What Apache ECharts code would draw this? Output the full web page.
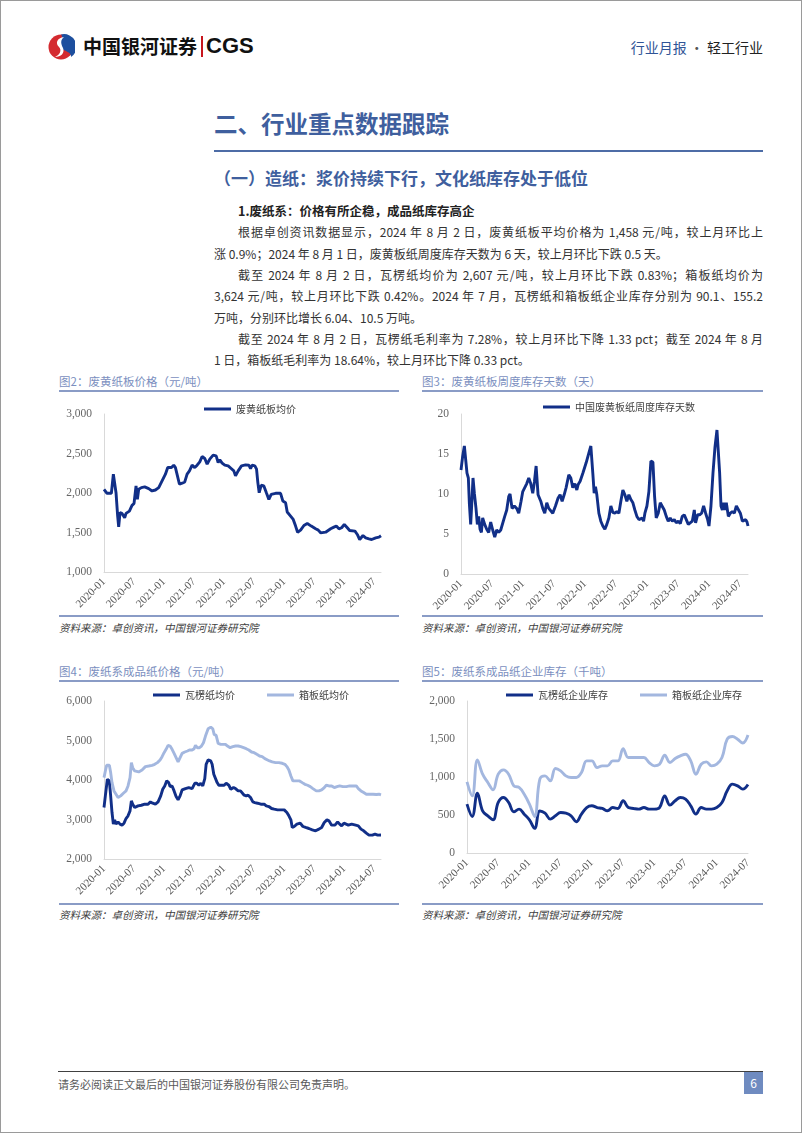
<!DOCTYPE html>
<html>
<head>
<meta charset="utf-8">
<script src="https://cdn.jsdelivr.net/npm/echarts/dist/echarts.min.js"></script>
<style>
  html, body { margin: 0; padding: 0; background: #fff; }
  #page { position: relative; width: 802px; height: 1133px; box-sizing: border-box; border: 1px solid #9a9a9a; background: #fff; overflow: hidden; font-family: "Noto Sans CJK SC", sans-serif; }
  .abs { position: absolute; white-space: nowrap; }
  .ctitle { position: absolute; font-size: 11.5px; color: #7b8fc0; line-height: 16px; white-space: nowrap; }
  .crule { position: absolute; height: 1.5px; background: #8a9cc6; }
  .csrc { position: absolute; font-size: 10.5px; color: #404040; font-style: italic; line-height: 14px; white-space: nowrap; }
  .chart { position: absolute; }
  #body { position: absolute; left: 213px; top: 199px; width: 549px; font-size: 12px; line-height: 21.33px; color: #333; }
  #body div { white-space: nowrap; }
  #body .j { text-align: justify; text-align-last: justify; white-space: normal; }
  #body .ind { padding-left: 24px; }
</style>
</head>
<body>
<div id="page">
  <!-- header -->
  <svg class="abs" style="left:46px;top:32px" width="28" height="28" viewBox="0 0 28 28">
    <circle cx="14" cy="14" r="12.5" fill="#d42a2f"/>
    <path d="M14 1.5 A12.5 12.5 0 0 1 24 24 C 25 17, 11 18, 12 11 C 12.5 7, 17 5, 14 1.5 Z" fill="#1d4f9e"/>
    <path d="M17 4 C 10 5, 8 10, 12 14 C 15 17, 13 22, 8 24 C 14 24, 18 20, 16 15 C 14 11, 13 7, 17 4 Z" fill="#ffffff"/>
  </svg>
  <div class="abs" style="left:82px;top:32px;font-size:19px;font-weight:700;color:#111;line-height:26px;">中国银河证券</div>
  <div class="abs" style="left:200px;top:35px;width:2px;height:21px;background:#c8161d;"></div>
  <div class="abs" style="left:205px;top:31px;font-family:'Liberation Sans',Arial,sans-serif;font-size:22px;font-weight:700;color:#111;line-height:28px;">CGS</div>
  <div class="abs" style="left:562px;top:36px;width:200px;text-align:right;font-size:14px;line-height:20px;"><span style="color:#2f5496;">行业月报</span><span style="color:#555;"> · </span><span style="color:#222;">轻工行业</span></div>

  <!-- section titles -->
  <div class="abs" style="left:213px;top:107px;font-size:23.5px;font-weight:700;color:#3f5f9e;line-height:30px;">二、行业重点数据跟踪</div>
  <div class="abs" style="left:213px;top:149px;width:549px;height:2px;background:#4d6ca6;"></div>
  <div class="abs" style="left:213px;top:165px;font-size:17px;font-weight:700;color:#3f5f9e;line-height:24px;">（一）造纸：浆价持续下行，文化纸库存处于低位</div>

  <div id="body">
    <div class="ind" style="font-weight:700;color:#222;font-size:12.5px;">1.废纸系：价格有所企稳，成品纸库存高企</div>
    <div class="j ind">根据卓创资讯数据显示，2024 年 8 月 2 日，废黄纸板平均价格为 1,458 元/吨，较上月环比上</div>
    <div>涨 0.9%；2024 年 8 月 1 日，废黄板纸周度库存天数为 6 天，较上月环比下跌 0.5 天。</div>
    <div class="j ind">截至 2024 年 8 月 2 日，瓦楞纸均价为 2,607 元/吨，较上月环比下跌 0.83%；箱板纸均价为</div>
    <div class="j">3,624 元/吨，较上月环比下跌 0.42%。2024 年 7 月，瓦楞纸和箱板纸企业库存分别为 90.1、155.2</div>
    <div>万吨，分别环比增长 6.04、10.5 万吨。</div>
    <div class="j ind">截至 2024 年 8 月 2 日，瓦楞纸毛利率为 7.28%，较上月环比下降 1.33 pct；截至 2024 年 8 月</div>
    <div>1 日，箱板纸毛利率为 18.64%，较上月环比下降 0.33 pct。</div>
  </div>

  <!-- chart frames -->
  <div class="ctitle" style="left:58px;top:372px;">图2：废黄纸板价格（元/吨）</div>
  <div class="crule" style="left:58px;top:389px;width:340px;"></div>
  <div class="chart" id="c1" style="left:58px;top:392px;width:340px;height:222px;"></div>
  <div class="crule" style="left:58px;top:614px;width:340px;"></div>
  <div class="csrc" style="left:58px;top:620px;">资料来源：卓创资讯，中国银河证券研究院</div>

  <div class="ctitle" style="left:421px;top:372px;">图3：废黄纸板周度库存天数（天）</div>
  <div class="crule" style="left:421px;top:389px;width:341px;"></div>
  <div class="chart" id="c2" style="left:421px;top:392px;width:341px;height:222px;"></div>
  <div class="crule" style="left:421px;top:614px;width:341px;"></div>
  <div class="csrc" style="left:421px;top:620px;">资料来源：卓创资讯，中国银河证券研究院</div>

  <div class="ctitle" style="left:58px;top:662px;">图4：废纸系成品纸价格（元/吨）</div>
  <div class="crule" style="left:58px;top:679px;width:340px;"></div>
  <div class="chart" id="c3" style="left:58px;top:682px;width:340px;height:220px;"></div>
  <div class="crule" style="left:58px;top:902px;width:340px;"></div>
  <div class="csrc" style="left:58px;top:907px;">资料来源：卓创资讯，中国银河证券研究院</div>

  <div class="ctitle" style="left:421px;top:662px;">图5：废纸系成品纸企业库存（千吨）</div>
  <div class="crule" style="left:421px;top:679px;width:341px;"></div>
  <div class="chart" id="c4" style="left:421px;top:682px;width:341px;height:220px;"></div>
  <div class="crule" style="left:421px;top:902px;width:341px;"></div>
  <div class="csrc" style="left:421px;top:907px;">资料来源：卓创资讯，中国银河证券研究院</div>

  <!-- footer -->
  <div class="abs" style="left:57px;top:1070px;width:705px;height:1px;background:#404040;"></div>
  <div class="abs" style="left:57px;top:1075px;font-size:11px;color:#595959;line-height:16px;">请务必阅读正文最后的中国银河证券股份有限公司免责声明。</div>
  <div class="abs" style="left:743px;top:1071px;width:19px;height:22px;background:#6f8bc0;color:#fff;font-size:12px;line-height:22px;text-align:center;">6</div>
</div>

<script>
// ---------- DATA (x = months since 2020-01, y = value) ----------
// 图2 废黄纸板均价 (元/吨)
const wasteBoardPrice = [[0,2047],[0.6,1996],[1.47,1996],[1.87,2238],[2.13,2217],[2.4,2004],[2.73,1708],[2.93,1572],[3.2,1750],[3.6,1742],[4.13,1687],[4.4,1742],[5.07,1771],[5.6,1843],[6.0,1868],[6.4,2089],[6.67,1919],[6.93,2047],[7.47,2068],[8.13,2077],[8.93,2055],[9.6,2026],[10.27,2038],[10.93,2068],[11.6,2153],[12.27,2238],[12.73,2322],[13.47,2322],[13.93,2352],[14.27,2322],[14.67,2217],[15.07,2111],[15.6,2124],[16.13,2140],[16.6,2238],[17.07,2280],[17.6,2352],[18.13,2322],[18.6,2352],[19.13,2395],[19.6,2462],[20.13,2437],[20.6,2365],[21.13,2429],[21.8,2479],[22.4,2470],[22.8,2386],[23.13,2420],[23.6,2378],[24.13,2352],[24.8,2344],[25.4,2310],[25.93,2280],[26.27,2217],[26.8,2280],[27.47,2344],[28.27,2356],[28.93,2352],[29.27,2310],[29.6,2352],[30.13,2344],[30.47,2302],[30.73,2132],[31.0,2004],[31.4,2098],[31.93,2089],[32.47,1996],[32.93,1919],[33.4,1983],[34.27,1996],[35.27,1996],[35.73,1898],[36.27,1877],[36.6,1759],[37.27,1708],[37.8,1665],[38.27,1581],[38.67,1504],[39.27,1530],[39.93,1589],[40.6,1614],[41.4,1581],[42.27,1547],[42.8,1530],[43.27,1496],[44.27,1504],[45.27,1547],[45.93,1568],[46.4,1581],[46.93,1547],[47.47,1560],[48.0,1602],[48.6,1560],[49.07,1525],[50.13,1517],[50.6,1475],[51.07,1411],[51.73,1462],[52.27,1432],[52.93,1419],[53.47,1411],[54.27,1432],[54.93,1441],[55.33,1458]];

// 图3 中国废黄板纸周度库存天数 (天)
const wasteStockDays = [[0,13.0],[0.32,14.7],[0.65,16.0],[0.84,15.9],[1.16,12.6],[1.42,12.0],[1.61,8.9],[1.87,6.2],[2.06,8.5],[2.32,12.0],[2.58,10.1],[2.9,8.2],[3.16,6.2],[3.42,7.2],[3.68,5.6],[3.94,5.2],[4.19,7.0],[4.58,6.2],[4.97,5.6],[5.35,5.2],[5.74,6.5],[6.13,5.5],[6.52,4.6],[6.9,5.5],[7.29,5.2],[7.68,5.5],[8.06,5.6],[8.45,7.2],[8.84,8.0],[9.23,9.7],[9.48,10.0],[9.87,8.2],[10.32,8.5],[10.77,8.2],[11.16,7.6],[11.61,9.1],[11.94,10.3],[12.32,10.3],[12.71,11.3],[13.1,12.0],[13.48,11.3],[13.87,10.1],[14.19,11.5],[14.52,13.5],[14.9,9.9],[15.42,9.1],[15.81,8.2],[16.19,7.6],[16.58,8.9],[16.97,8.2],[17.35,8.2],[17.74,7.6],[18.26,8.5],[18.77,9.5],[19.16,9.9],[19.55,9.1],[19.94,9.9],[20.32,10.8],[20.84,12.4],[21.23,12.0],[21.61,10.8],[22.0,11.3],[22.39,10.5],[22.65,11.2],[23.03,11.6],[23.55,12.6],[24.19,13.9],[24.71,15.1],[25.1,16.0],[25.48,12.6],[25.74,10.1],[26.0,10.9],[26.26,9.9],[26.65,7.6],[27.03,6.6],[27.42,6.0],[27.81,5.6],[28.19,6.2],[28.58,7.0],[28.97,8.5],[29.35,7.7],[29.74,7.6],[30.13,7.8],[30.52,7.6],[30.9,9.1],[31.29,10.5],[31.68,9.9],[32.06,9.1],[32.45,9.9],[32.84,9.3],[33.23,8.9],[33.61,8.0],[34.0,7.2],[34.39,6.8],[34.77,6.6],[35.03,7.0],[35.29,6.6],[35.55,7.6],[35.94,8.5],[36.32,10.3],[36.71,14.1],[37.1,14.0],[37.42,9.7],[37.74,7.0],[38.13,7.6],[38.52,8.9],[38.9,8.9],[39.29,8.0],[39.68,7.2],[40.06,6.6],[40.45,7.0],[40.84,6.6],[41.23,6.8],[41.61,6.4],[42.0,6.6],[42.39,6.3],[42.77,7.2],[43.16,7.4],[43.55,6.8],[43.94,6.2],[44.32,6.2],[44.71,6.6],[45.1,8.0],[45.35,6.4],[45.74,7.4],[46.13,7.4],[46.52,7.6],[46.9,8.5],[47.29,7.6],[47.68,6.8],[47.94,6.0],[48.32,8.5],[48.71,12.6],[49.1,15.9],[49.48,18.0],[49.74,17.8],[50.0,12.6],[50.26,8.5],[50.52,8.0],[50.77,8.9],[51.03,8.0],[51.29,8.9],[51.68,7.2],[52.06,7.6],[52.45,7.8],[52.84,7.6],[53.23,8.5],[53.61,8.5],[54.0,7.6],[54.39,6.6],[54.77,6.5],[55.03,6.8],[55.29,6.5],[55.48,6.0]];

// 图4 瓦楞纸均价 / 箱板纸均价 (元/吨)
const corrugatedPrice = [[0,3303],[0.27,3598],[0.67,4019],[1.07,3977],[1.33,3598],[1.6,3177],[1.87,2882],[2.13,2991],[2.4,2882],[2.8,2941],[3.2,2882],[3.6,2857],[4.0,2907],[4.4,3025],[4.8,3093],[5.2,3219],[5.47,3472],[5.73,3387],[6.13,3303],[6.8,3345],[7.47,3361],[8.13,3387],[8.8,3387],[9.27,3446],[9.73,3412],[10.27,3387],[10.8,3446],[11.33,3598],[11.73,3766],[12.13,3850],[12.53,3977],[12.93,3934],[13.2,3833],[13.6,3850],[14.0,3724],[14.4,3581],[14.8,3497],[15.2,3598],[15.6,3749],[16.27,3783],[16.93,3808],[17.6,3783],[18.13,3917],[18.53,3917],[18.93,3867],[19.33,3917],[19.73,3850],[20.13,4036],[20.4,4398],[20.8,4507],[21.33,4482],[21.6,4398],[21.93,4145],[22.27,4187],[22.6,3934],[22.93,3867],[23.47,3867],[24.0,3867],[24.4,3917],[24.93,3867],[25.33,3766],[25.87,3808],[26.27,3783],[26.8,3724],[27.27,3724],[27.6,3724],[28.0,3615],[28.4,3598],[28.8,3615],[29.27,3556],[29.73,3446],[30.13,3429],[30.67,3412],[31.33,3387],[32.0,3387],[32.4,3345],[32.93,3328],[33.47,3278],[34.0,3261],[34.67,3244],[35.47,3244],[36.0,3244],[36.53,3177],[36.93,3093],[37.33,2991],[37.6,2798],[38.0,2823],[38.53,2882],[39.2,2907],[39.73,2823],[40.27,2798],[40.93,2772],[41.6,2739],[42.27,2714],[42.93,2756],[43.47,2798],[44.0,2924],[44.53,2991],[44.93,2966],[45.47,2857],[46.13,2857],[46.67,2941],[47.07,2882],[47.47,2840],[47.93,2907],[48.27,2882],[48.8,2857],[49.47,2882],[50.27,2857],[50.8,2840],[51.33,2756],[51.87,2714],[52.4,2655],[52.93,2604],[53.6,2604],[54.13,2630],[54.67,2604],[55.33,2607]];
const boxboardPrice = [[0,4061],[0.27,4229],[0.53,4372],[1.07,4372],[1.33,4187],[1.6,3934],[2.0,3724],[2.4,3640],[2.8,3556],[3.33,3598],[3.87,3665],[4.4,3724],[4.8,3850],[5.2,4061],[5.47,4440],[5.73,4313],[6.13,4229],[6.93,4204],[7.6,4254],[8.27,4339],[8.93,4355],[9.6,4372],[10.13,4398],[10.67,4440],[11.2,4507],[11.6,4591],[12.0,4692],[12.4,4776],[12.8,4877],[13.2,4860],[13.6,4776],[14.0,4675],[14.4,4566],[14.8,4457],[15.2,4566],[15.6,4675],[16.13,4709],[16.67,4734],[17.07,4759],[17.6,4759],[18.0,4793],[18.27,4877],[18.67,4818],[19.07,4818],[19.47,4860],[19.87,4944],[20.27,5112],[20.8,5297],[21.33,5339],[21.73,5297],[22.0,5154],[22.4,5129],[22.8,4927],[23.33,4902],[23.87,4902],[24.27,4902],[24.67,4860],[25.2,4818],[25.73,4843],[26.27,4860],[26.8,4860],[27.33,4843],[27.87,4818],[28.4,4793],[28.93,4759],[29.47,4709],[30.0,4692],[30.53,4650],[31.07,4608],[31.6,4591],[32.13,4540],[32.67,4507],[33.07,4482],[33.6,4457],[34.27,4440],[34.93,4440],[35.6,4423],[36.13,4398],[36.53,4339],[36.93,4254],[37.33,4103],[37.73,3977],[38.4,3977],[39.07,3977],[39.6,3934],[40.13,3892],[40.67,3867],[41.2,3833],[41.73,3783],[42.4,3724],[42.93,3724],[43.47,3749],[44.0,3808],[44.4,3867],[44.93,3850],[45.47,3850],[46.0,3808],[46.53,3833],[47.07,3850],[47.73,3833],[48.4,3833],[49.07,3850],[49.73,3850],[50.4,3850],[50.8,3783],[51.33,3724],[51.87,3682],[52.4,3640],[53.07,3640],[53.73,3640],[54.4,3632],[54.93,3640],[55.33,3624]];

// 图5 企业库存 (千吨), monthly 2020-01 ... 2024-07
const corrugatedStock = [643,481,787,553,488,437,665,731,665,542,577,511,437,324,553,524,446,490,533,524,490,411,511,598,621,598,586,555,598,586,687,598,586,577,598,577,577,598,752,630,687,731,709,621,511,598,577,577,598,665,818,906,884,841,901];
const boxboardStock = [936,752,1225,1037,927,831,1037,1094,1037,883,862,774,643,481,971,1015,949,1112,1081,1015,993,993,1059,1212,1212,1125,1147,1147,1212,1212,1374,1256,1256,1256,1256,1190,1147,1168,1287,1190,1243,1278,1300,1212,1037,1168,1199,1147,1168,1256,1497,1532,1497,1447,1552];
const stockMonths = [];
for (let y = 2020; y <= 2024; y++) for (let m = 1; m <= 12; m++) { if (y === 2024 && m > 7) break; stockMonths.push(y + '-' + String(m).padStart(2, '0')); }

// ---------- STYLE ----------
const DARK = '#112f88';
const LIGHT = '#a3b7df';
const AXIS = '#d9d9d9';
const serif = "'Liberation Serif','Times New Roman',serif";
const thousands = v => Number(v).toLocaleString('en-US');
const monthLabel = v => {
  if (Math.abs(v % 6) > 1e-6 || v > 54.01) return '';
  const y = 2020 + Math.floor(v / 12);
  return y + '-' + ((v % 12) === 0 ? '01' : '07');
};

function valueX(max) {
  return {
    type: 'value', min: 0, max: max, interval: 6,
    axisLine: { show: true, lineStyle: { color: AXIS, width: 1 } },
    axisTick: { show: false }, splitLine: { show: false },
    axisLabel: { rotate: 45, margin: 8, fontFamily: serif, fontSize: 11, color: '#595959', formatter: monthLabel, showMaxLabel: false }
  };
}
function valueY(min, max, interval, fmt) {
  return {
    type: 'value', min: min, max: max, interval: interval,
    axisLine: { show: true, lineStyle: { color: AXIS, width: 1 } },
    axisTick: { show: false }, splitLine: { show: false },
    axisLabel: { margin: 12, fontFamily: serif, fontSize: 11.5, color: '#666', formatter: fmt }
  };
}
function legend(left, top, gap) {
  return {
    left: left, top: top, icon: 'rect', itemWidth: 27, itemHeight: 3, itemGap: gap,
    textStyle: { fontSize: 10, color: '#404040', fontFamily: "'Noto Sans CJK SC',sans-serif" }
  };
}
function line(name, data, color, smooth) {
  return { name: name, type: 'line', data: data, showSymbol: false, symbol: 'none', smooth: smooth || false,
    lineStyle: { color: color, width: 2.9 }, itemStyle: { color: color } };
}

const c1 = echarts.init(document.getElementById('c1'), null, { renderer: 'canvas' });
c1.setOption({
  animation: false,
  grid: { left: 45, top: 21, right: 18, bottom: 43 },
  legend: legend(140, 6, 30),
  xAxis: valueX(55.33),
  yAxis: valueY(1000, 3000, 500, thousands),
  series: [line('废黄纸板均价', wasteBoardPrice, DARK)]
});

const c2 = echarts.init(document.getElementById('c2'), null, { renderer: 'canvas' });
c2.setOption({
  animation: false,
  grid: { left: 39, top: 21, right: 15, bottom: 41 },
  legend: legend(116, 4, 30),
  xAxis: valueX(55.48),
  yAxis: valueY(0, 20, 5, v => String(v)),
  series: [line('中国废黄板纸周度库存天数', wasteStockDays, DARK)]
});

const c3 = echarts.init(document.getElementById('c3'), null, { renderer: 'canvas' });
c3.setOption({
  animation: false,
  grid: { left: 45, top: 18, right: 18, bottom: 44 },
  legend: legend(89, 2, 32),
  xAxis: valueX(55.33),
  yAxis: valueY(2000, 6000, 1000, thousands),
  series: [line('瓦楞纸均价', corrugatedPrice, DARK), line('箱板纸均价', boxboardPrice, LIGHT)]
});

const c4 = echarts.init(document.getElementById('c4'), null, { renderer: 'canvas' });
c4.setOption({
  animation: false,
  grid: { left: 45, top: 18, right: 15, bottom: 50 },
  legend: legend(79, 2, 32),
  xAxis: {
    type: 'category', data: stockMonths, boundaryGap: false,
    axisLine: { show: true, lineStyle: { color: AXIS, width: 1 } },
    axisTick: { show: false },
    axisLabel: { rotate: 45, margin: 8, interval: 5, fontFamily: serif, fontSize: 11, color: '#595959' }
  },
  yAxis: valueY(0, 2000, 500, thousands),
  series: [line('瓦楞纸企业库存', corrugatedStock, DARK, 0.4), line('箱板纸企业库存', boxboardStock, LIGHT, 0.4)]
});
</script>
</body>
</html>
